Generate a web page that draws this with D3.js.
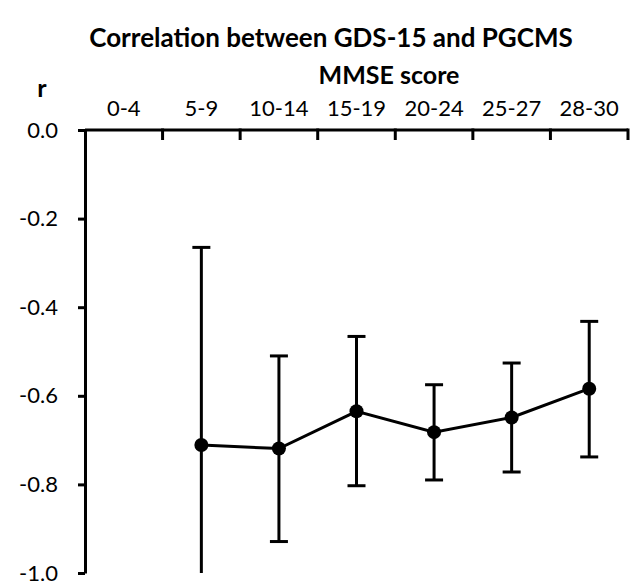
<!DOCTYPE html>
<html>
<head>
<meta charset="utf-8">
<script src="https://cdn.jsdelivr.net/npm/d3@7"></script>
<style>
    body { margin: 0; background: #fff; }
    text { font-family: Lato, "Open Sans", sans-serif; fill: #000; }
    .axis path, .axis line { stroke: #000; stroke-width: 3; }
    .axis text { font-size: 22px; }
</style>
</head>
<body>
<svg width="637" height="585"></svg>
<script>
// MMSE score groups
var categories = ["0-4", "5-9", "10-14", "15-19", "20-24", "25-27", "28-30"];
// correlation r (no value for 0-4)
var rValues = [null, -0.711, -0.719, -0.635, -0.682, -0.649, -0.584];
var rUpper  = [null, -0.265, -0.510, -0.466, -0.575, -0.526, -0.432];
var rLower  = [null, -1.000, -0.929, -0.803, -0.790, -0.772, -0.738];
var yTicks = [0, -0.2, -0.4, -0.6, -0.8, -1.0];

var svg = d3.select("svg"),
    margin = {top: 130, right: 9, bottom: 12, left: 85},
    width = svg.attr("width") - margin.left - margin.right,
    height = svg.attr("height") - margin.top - margin.bottom;

var x = d3.scaleBand()
    .domain(categories)
    .range([0, width]);

var y = d3.scaleLinear()
    .domain([-1, 0])
    .range([height, 0]);

var fmt = d3.formatLocale({decimal: ".", thousands: ",", grouping: [3], currency: ["", ""], minus: "-"}).format(".1f");

var g = svg.append("g")
    .attr("transform", "translate(" + margin.left + "," + margin.top + ")");

// y axis
g.append("g")
    .attr("class", "axis")
    .call(d3.axisLeft(y).tickValues(yTicks).tickFormat(function(d) { return d === 0 ? "0.0" : fmt(d); }).tickSize(7).tickSizeOuter(0).tickPadding(20));

// top axis: line + ticks at band boundaries pointing down
var xAxis = g.append("g").attr("class", "axis");
xAxis.append("line")
    .attr("x1", 0).attr("x2", width)
    .attr("y1", 0).attr("y2", 0);
xAxis.selectAll(".bound")
    .data(categories)
    .enter().append("line")
    .attr("class", "bound")
    .attr("x1", function(d) { return x(d) + x.bandwidth(); })
    .attr("x2", function(d) { return x(d) + x.bandwidth(); })
    .attr("y1", -1.5).attr("y2", 10);
xAxis.selectAll(".cat")
    .data(categories)
    .enter().append("text")
    .attr("class", "cat")
    .attr("x", function(d) { return x(d) + x.bandwidth() / 2; })
    .attr("y", -14)
    .attr("text-anchor", "middle")
    .text(function(d) { return d; });

var pts = categories.map(function(c, i) {
    return {cat: c, r: rValues[i], hi: rUpper[i], lo: rLower[i]};
}).filter(function(d) { return d.r !== null; });

var cx = function(d) { return x(d.cat) + x.bandwidth() / 2; };

// error bars
var eb = g.append("g").selectAll("g").data(pts).enter().append("g")
    .attr("stroke", "#000").attr("stroke-width", 3);
eb.append("line")
    .attr("x1", cx).attr("x2", cx)
    .attr("y1", function(d) { return y(d.hi); })
    .attr("y2", function(d) { return y(d.lo); });
eb.append("line")
    .attr("x1", function(d) { return cx(d) - 9; })
    .attr("x2", function(d) { return cx(d) + 9; })
    .attr("y1", function(d) { return y(d.hi); })
    .attr("y2", function(d) { return y(d.hi); });
eb.filter(function(d) { return d.lo > -1; }).append("line")
    .attr("x1", function(d) { return cx(d) - 9; })
    .attr("x2", function(d) { return cx(d) + 9; })
    .attr("y1", function(d) { return y(d.lo); })
    .attr("y2", function(d) { return y(d.lo); });

// line
g.append("path")
    .datum(pts)
    .attr("fill", "none")
    .attr("stroke", "#000")
    .attr("stroke-width", 3)
    .attr("d", d3.line().x(cx).y(function(d) { return y(d.r); }));

g.selectAll(".dot").data(pts).enter().append("circle")
    .attr("class", "dot")
    .attr("r", 7)
    .attr("cx", cx)
    .attr("cy", function(d) { return y(d.r); });

// titles
svg.append("text")
    .attr("x", 331).attr("y", 47)
    .attr("text-anchor", "middle")
    .style("font-size", "26px").style("font-weight", "bold")
    .text("Correlation between GDS-15 and PGCMS");
svg.append("text")
    .attr("x", 389).attr("y", 84)
    .attr("text-anchor", "middle")
    .style("font-size", "25px").style("font-weight", "bold")
    .text("MMSE score");
svg.append("text")
    .attr("x", 42).attr("y", 97)
    .attr("text-anchor", "middle")
    .style("font-size", "25px").style("font-weight", "bold")
    .text("r");
</script>
</body>
</html>
